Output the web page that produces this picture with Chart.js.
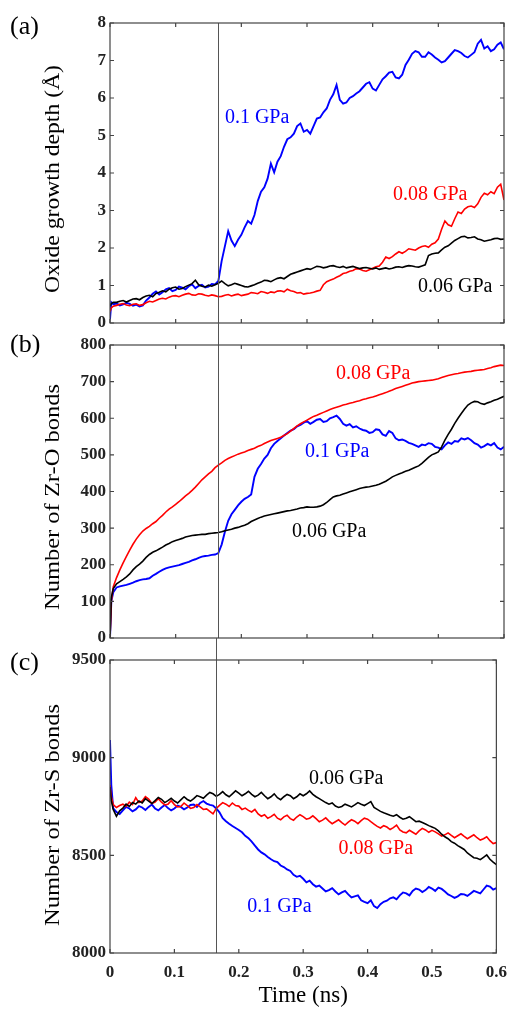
<!DOCTYPE html>
<html>
<head>
<meta charset="utf-8">
<title>Oxide growth and bond counts</title>
<script src="https://cdn.jsdelivr.net/npm/chart.js@4.4.1/dist/chart.umd.min.js"></script>
<style>
  html, body { margin: 0; padding: 0; background: #fff; }
  #wrap { position: relative; width: 516px; height: 1010px; }
  #wrap canvas { position: absolute; left: 0; top: 0; }
</style>
</head>
<body>
<div id="wrap">
  <canvas id="chartA" width="516" height="1010"></canvas>
  <canvas id="chartB" width="516" height="1010"></canvas>
  <canvas id="chartC" width="516" height="1010"></canvas>
</div>
<script>
// time axis (ns), shared by every series
const time = [0, 0.002,
  0.005, 0.010, 0.015, 0.020, 0.025, 0.030, 0.035, 0.040, 0.045, 0.050,
  0.055, 0.060, 0.065, 0.070, 0.075, 0.080, 0.085, 0.090, 0.095, 0.100,
  0.105, 0.110, 0.115, 0.120, 0.125, 0.130, 0.135, 0.140, 0.145, 0.150,
  0.155, 0.160, 0.165, 0.170, 0.175, 0.180, 0.185, 0.190, 0.195, 0.200,
  0.205, 0.210, 0.215, 0.220, 0.225, 0.230, 0.235, 0.240, 0.245, 0.250,
  0.255, 0.260, 0.265, 0.270, 0.275, 0.280, 0.285, 0.290, 0.295, 0.300,
  0.305, 0.310, 0.315, 0.320, 0.325, 0.330, 0.335, 0.340, 0.345, 0.350,
  0.355, 0.360, 0.365, 0.370, 0.375, 0.380, 0.385, 0.390, 0.395, 0.400,
  0.405, 0.410, 0.415, 0.420, 0.425, 0.430, 0.435, 0.440, 0.445, 0.450,
  0.455, 0.460, 0.465, 0.470, 0.475, 0.480, 0.485, 0.490, 0.495, 0.500,
  0.505, 0.510, 0.515, 0.520, 0.525, 0.530, 0.535, 0.540, 0.545, 0.550,
  0.555, 0.560, 0.565, 0.570, 0.575, 0.580, 0.585, 0.590, 0.595, 0.600];

const pressureLabels = ['0.06 GPa', '0.08 GPa', '0.1 GPa'];
const markerTime = 0.164;

// (a) oxide growth depth (Å)
const depth006 = [0.45, 0.52,
  0.55, 0.55, 0.58, 0.60, 0.56, 0.60, 0.64, 0.65, 0.62, 0.68,
  0.72, 0.74, 0.70, 0.79, 0.82, 0.86, 0.83, 0.90, 0.94, 0.96,
  0.90, 0.92, 0.97, 1.01, 1.05, 1.14, 1.02, 0.98, 0.96, 1.01,
  0.98, 1.02, 1.06, 1.12, 1.05, 0.99, 1.02, 1.06, 1.03, 1.00,
  0.97, 0.96, 0.99, 1.02, 1.06, 1.09, 1.14, 1.13, 1.10, 1.15,
  1.19, 1.21, 1.18, 1.24, 1.30, 1.33, 1.36, 1.39, 1.42, 1.45,
  1.43, 1.47, 1.51, 1.50, 1.47, 1.49, 1.52, 1.53, 1.50, 1.48,
  1.51, 1.47, 1.49, 1.51, 1.48, 1.45, 1.47, 1.48, 1.46, 1.44,
  1.47, 1.43, 1.45, 1.47, 1.44, 1.46, 1.49, 1.50, 1.48, 1.51,
  1.53, 1.52, 1.50, 1.49, 1.52, 1.55, 1.80, 1.84, 1.86, 1.87,
  1.95, 2.02, 2.06, 2.13, 2.20, 2.25, 2.30, 2.31, 2.27, 2.28,
  2.30, 2.24, 2.22, 2.18, 2.20, 2.22, 2.25, 2.26, 2.23, 2.24];
const depth008 = [0.30, 0.40,
  0.45, 0.47, 0.50, 0.52, 0.48, 0.46, 0.50, 0.51, 0.47, 0.49,
  0.54, 0.58, 0.56, 0.60, 0.64, 0.66, 0.64, 0.69, 0.72, 0.73,
  0.70, 0.74, 0.77, 0.79, 0.75, 0.74, 0.78, 0.77, 0.74, 0.72,
  0.75, 0.73, 0.70, 0.71, 0.74, 0.76, 0.72, 0.75, 0.77, 0.73,
  0.75, 0.77, 0.81, 0.80, 0.78, 0.84, 0.82, 0.79, 0.83, 0.81,
  0.85, 0.86, 0.83, 0.90, 0.86, 0.84, 0.80, 0.81, 0.77, 0.79,
  0.80, 0.82, 0.85, 0.87, 1.02, 1.10, 1.14, 1.17, 1.22, 1.26,
  1.32, 1.34, 1.38, 1.40, 1.45, 1.44, 1.40, 1.38, 1.42, 1.46,
  1.50, 1.52, 1.62, 1.76, 1.72, 1.77, 1.84, 1.90, 1.86, 1.91,
  1.98, 1.96, 1.94, 2.00, 2.04, 2.06, 2.02, 2.10, 2.14, 2.24,
  2.50, 2.72, 2.62, 2.58, 2.78, 2.96, 2.92, 3.04, 3.10, 3.12,
  3.08, 3.18, 3.35, 3.46, 3.42, 3.50, 3.45, 3.62, 3.70, 3.28];
const depth01 = [0.10, 0.55,
  0.50, 0.52, 0.47, 0.50, 0.54, 0.51, 0.46, 0.49, 0.44, 0.47,
  0.60, 0.68, 0.78, 0.84, 0.76, 0.82, 0.90, 0.93, 0.85, 0.88,
  0.97, 0.94, 0.90, 0.98, 1.03, 0.93, 0.99, 1.02, 0.95, 0.97,
  1.04, 1.03, 1.12, 1.65, 2.05, 2.45, 2.20, 2.05, 2.22, 2.35,
  2.55, 2.72, 2.65, 2.88, 3.25, 3.50, 3.62, 3.85, 4.25, 4.02,
  4.30, 4.45, 4.70, 4.90, 4.95, 5.05, 5.25, 5.32, 5.10, 5.15,
  5.05, 5.25, 5.45, 5.48, 5.62, 5.72, 5.95, 6.10, 6.35, 5.95,
  5.85, 5.88, 6.00, 6.05, 6.12, 6.18, 6.28, 6.38, 6.42, 6.25,
  6.20, 6.35, 6.50, 6.58, 6.68, 6.70, 6.55, 6.52, 6.62, 6.88,
  7.02, 7.18, 7.25, 7.22, 7.10, 7.10, 7.22, 7.16, 7.08, 7.02,
  6.95, 6.98, 7.08, 7.18, 7.28, 7.25, 7.20, 7.12, 7.08, 7.15,
  7.22, 7.45, 7.55, 7.32, 7.38, 7.25, 7.30, 7.42, 7.48, 7.30];

// (b) number of Zr-O bonds
const zrO006 = [0, 110,
  135, 148, 154, 160, 167, 175, 186, 195, 202, 210,
  220, 228, 234, 238, 243, 248, 254, 258, 263, 266,
  269, 272, 276, 278, 280, 281, 282, 283, 283, 285,
  286, 287, 288, 290, 293, 295, 297, 300, 302, 305,
  308, 312, 318, 322, 326, 330, 333, 335, 337, 339,
  341, 343, 345, 347, 348, 350, 352, 355, 356, 358,
  357, 357, 358, 360, 364, 370, 378, 385, 388, 390,
  393, 396, 399, 402, 405, 408, 410, 412, 413, 415,
  417, 420, 424, 428, 434, 440, 444, 448, 451, 455,
  458, 462, 466, 470, 477, 485, 493, 500, 504, 508,
  522, 540, 556, 570, 586, 600, 613, 625, 636, 642,
  646, 645, 640, 638, 642, 645, 649, 652, 656, 660];
const zrO008 = [0, 100,
  140, 165, 186, 205, 223, 240, 256, 270, 282, 292,
  299, 305, 312, 318, 327, 335, 344, 352, 358, 365,
  372, 380, 388, 395, 403, 412, 422, 432, 440, 448,
  455, 465, 472, 478, 485, 490, 494, 498, 502, 505,
  508, 512, 515, 518, 523, 526, 531, 535, 539, 542,
  545, 548, 553, 558, 565, 572, 579, 585, 590, 595,
  600, 605, 608, 612, 616, 620, 624, 627, 630, 633,
  636, 638, 641, 643, 646, 648, 651, 653, 656, 658,
  661, 664, 667, 670, 674, 677, 681, 684, 687, 690,
  693, 696, 698, 700, 701, 702, 703, 704, 706, 708,
  711, 714, 717, 719, 721, 722, 724, 726, 727, 728,
  730, 731, 732, 733, 736, 738, 741, 743, 745, 744];
const zrO01 = [0, 100,
  125, 138, 141, 143, 145, 148, 151, 155, 158, 160,
  161, 163, 170, 175, 181, 186, 190, 193, 195, 197,
  199, 202, 205, 208, 212, 215, 219, 222, 224, 225,
  227, 228, 232, 255, 290, 320, 338, 350, 362, 372,
  380, 385, 392, 440, 462, 475, 490, 500, 518, 530,
  538, 545, 553, 560, 566, 570, 578, 582, 588, 592,
  585, 590, 596, 598, 590, 592, 600, 603, 607, 598,
  585, 580, 584, 575, 578, 572, 568, 566, 560, 562,
  570, 568, 556, 552, 565, 560, 545, 540, 542, 538,
  533, 530, 526, 522, 528, 526, 532, 530, 522, 520,
  515, 526, 534, 530, 538, 536, 545, 542, 546, 540,
  532, 528, 520, 524, 530, 526, 532, 520, 515, 522];

// (c) number of Zr-S bonds
const zrS006 = [8850, 8780,
  8735, 8700, 8728, 8742, 8762, 8750, 8770, 8762, 8778, 8768,
  8790, 8778, 8765, 8780, 8796, 8787, 8770, 8780, 8792, 8778,
  8768, 8784, 8800, 8786, 8778, 8790, 8806, 8800, 8792, 8808,
  8822, 8815, 8802, 8812, 8826, 8810, 8800, 8815, 8830, 8818,
  8805, 8815, 8828, 8812, 8800, 8808, 8822, 8805, 8790, 8800,
  8815, 8795, 8785, 8800, 8812, 8805, 8790, 8800, 8815, 8805,
  8815, 8830, 8812, 8800, 8790, 8780, 8770, 8762, 8768, 8752,
  8745, 8750, 8762, 8755, 8748, 8758, 8770, 8762, 8755, 8765,
  8775, 8745, 8735, 8725, 8718, 8712, 8705, 8700, 8708, 8695,
  8685, 8690, 8698, 8685, 8672, 8675, 8668, 8660, 8652, 8645,
  8638, 8625, 8608, 8595, 8585, 8570, 8562, 8550, 8540, 8530,
  8512, 8500, 8488, 8485, 8478, 8490, 8502, 8480, 8465, 8452];
const zrS008 = [8860, 8800,
  8760, 8745, 8755, 8762, 8750, 8772, 8760, 8795, 8770, 8778,
  8800, 8788, 8765, 8772, 8790, 8772, 8758, 8762, 8780, 8760,
  8748, 8750, 8768, 8755, 8740, 8745, 8760, 8748, 8735, 8738,
  8725, 8712, 8740, 8756, 8770, 8762, 8750, 8768, 8755, 8752,
  8735, 8742, 8730, 8722, 8735, 8712, 8700, 8708, 8690, 8698,
  8710, 8690, 8682, 8697, 8705, 8688, 8680, 8696, 8708, 8698,
  8685, 8690, 8702, 8688, 8672, 8680, 8692, 8675, 8662, 8672,
  8682, 8668, 8655, 8670, 8682, 8675, 8662, 8678, 8690, 8685,
  8672, 8660, 8648, 8640, 8652, 8645, 8632, 8642, 8655, 8630,
  8620, 8615, 8628, 8618, 8608, 8625, 8638, 8630, 8618, 8628,
  8620, 8610, 8598, 8605, 8615, 8602, 8590, 8600, 8610, 8597,
  8585, 8595, 8605, 8590, 8578, 8585, 8595, 8575, 8560, 8565];
const zrS01 = [9090, 8860,
  8740, 8722, 8712, 8730, 8748, 8740, 8725, 8735, 8752, 8745,
  8732, 8748, 8760, 8740, 8730, 8745, 8758, 8742, 8730, 8740,
  8755, 8748, 8735, 8745, 8758, 8760, 8748, 8768, 8778, 8765,
  8758, 8755, 8740, 8720, 8690, 8675, 8662, 8650, 8640, 8630,
  8618, 8600, 8588, 8570, 8550, 8530, 8515, 8505, 8492, 8480,
  8470, 8465, 8448, 8440, 8428, 8420, 8400, 8390, 8395, 8380,
  8362, 8370, 8352, 8340, 8345, 8330, 8315, 8322, 8332, 8315,
  8300, 8310, 8318, 8300, 8285, 8290, 8295, 8270, 8262, 8255,
  8270, 8240, 8230, 8250, 8262, 8268, 8280, 8285, 8275, 8295,
  8310, 8305, 8295, 8318, 8330, 8325, 8312, 8322, 8338, 8330,
  8318, 8335, 8328, 8315, 8300, 8292, 8282, 8290, 8302, 8300,
  8292, 8305, 8318, 8312, 8305, 8325, 8345, 8340, 8325, 8332];

const colors = ['#000000', '#ff0000', '#0000ff'];
const serif = "'Liberation Serif', 'Times New Roman', serif";

// frame, inward tick marks, marker line, panel letter, y title and curve labels
const decorPlugin = {
    id: 'decor',
    afterDatasetsDraw(chart, args, opts) {
        const { ctx, chartArea: a, scales } = chart;
        const xs = scales.x, ys = scales.y;
        ctx.save();

        // vertical marker
        const mx = Math.round(xs.getPixelForValue(markerTime)) + 0.5;
        ctx.strokeStyle = '#555';
        ctx.lineWidth = 1;
        ctx.beginPath();
        ctx.moveTo(mx, a.top - opts.markerUp);
        ctx.lineTo(mx, a.bottom);
        ctx.stroke();

        // curve labels
        ctx.font = '20px ' + serif;
        ctx.textAlign = 'left';
        ctx.textBaseline = 'middle';
        opts.curveLabels.forEach(l => {
            ctx.fillStyle = colors[l.series];
            ctx.fillText(pressureLabels[l.series], xs.getPixelForValue(l.t), ys.getPixelForValue(l.v));
        });

        // frame
        ctx.strokeStyle = '#444';
        ctx.lineWidth = 1.2;
        ctx.strokeRect(a.left, a.top, a.width, a.height);
        const len = 4;
        ctx.beginPath();
        xs.ticks.forEach(t => {
            const px = xs.getPixelForValue(t.value);
            ctx.moveTo(px, a.bottom); ctx.lineTo(px, a.bottom - len);
            ctx.moveTo(px, a.top); ctx.lineTo(px, a.top + len);
        });
        ys.ticks.forEach(t => {
            const py = ys.getPixelForValue(t.value);
            ctx.moveTo(a.left, py); ctx.lineTo(a.left + len, py);
            ctx.moveTo(a.right, py); ctx.lineTo(a.right - len, py);
        });
        ctx.stroke();

        // panel letter
        ctx.fillStyle = '#000';
        ctx.font = '26px ' + serif;
        ctx.textAlign = 'left';
        ctx.textBaseline = 'middle';
        ctx.fillText(opts.letter, 10, opts.letterY);

        // y axis title, stretched along its length like the original figure
        ctx.font = '22px ' + serif;
        const w = ctx.measureText(opts.yTitle).width;
        ctx.translate(opts.yTitleX, opts.yTitleY);
        ctx.rotate(-Math.PI / 2);
        ctx.scale(opts.yTitleLength / w, 1);
        ctx.textAlign = 'center';
        ctx.fillText(opts.yTitle, 0, 0);
        ctx.restore();
    }
};

const tickFont = { family: serif, size: 17, weight: 'bold' };

function series(values, i) {
    return {
        label: pressureLabels[i],
        data: time.map((t, k) => ({ x: t, y: values[k] })),
        borderColor: colors[i],
        borderWidth: i === 2 ? 1.9 : 1.6,
        pointRadius: 0,
        tension: 0
    };
}

function makePanel(id, p) {
    return new Chart(document.getElementById(id), {
        type: 'line',
        data: { datasets: [series(p.values[0], 0), series(p.values[1], 1), series(p.values[2], 2)] },
        options: {
            responsive: false,
            animation: false,
            layout: { padding: { top: p.top, right: 12, bottom: p.bottom, left: 0 } },
            plugins: {
                legend: { display: false },
                tooltip: { enabled: false },
                decor: p.decor
            },
            scales: {
                x: {
                    type: 'linear', min: 0, max: 0.6,
                    grid: { display: false, drawTicks: false },
                    border: { display: false },
                    ticks: {
                        display: p.showX, stepSize: 0.1, padding: 9, maxRotation: 0,
                        font: tickFont, color: '#222',
                        callback: v => String(Number(v.toFixed(1)))
                    },
                    title: {
                        display: p.showX, text: 'Time (ns)', color: '#000',
                        font: { family: serif, size: 23 }, padding: { top: 4, bottom: 0 }
                    },
                    afterFit: s => { s.height = p.xHeight; }
                },
                y: {
                    min: p.yMin, max: p.yMax,
                    grid: { display: false, drawTicks: false },
                    border: { display: false },
                    ticks: {
                        stepSize: p.yStep, padding: 4, font: tickFont, color: '#222',
                        callback: v => String(v)
                    },
                    afterFit: s => { s.width = 110; }
                }
            }
        },
        plugins: [decorPlugin]
    });
}

makePanel('chartA', {
    values: [depth006, depth008, depth01],
    top: 23, bottom: 687, xHeight: 0, showX: false,
    yMin: 0, yMax: 8, yStep: 1,
    decor: {
        markerUp: 0, letter: '(a)', letterY: 27,
        yTitle: 'Oxide growth depth (Å)', yTitleX: 53, yTitleY: 179, yTitleLength: 228,
        curveLabels: [
            { series: 2, t: 0.175, v: 5.47 },
            { series: 1, t: 0.431, v: 3.41 },
            { series: 0, t: 0.469, v: 0.96 }
        ]
    }
});

makePanel('chartB', {
    values: [zrO006, zrO008, zrO01],
    top: 345, bottom: 372, xHeight: 0, showX: false,
    yMin: 0, yMax: 800, yStep: 100,
    decor: {
        markerUp: 22, letter: '(b)', letterY: 345,
        yTitle: 'Number of Zr-O bonds', yTitleX: 53, yTitleY: 497, yTitleLength: 226,
        curveLabels: [
            { series: 1, t: 0.344, v: 721 },
            { series: 2, t: 0.297, v: 508 },
            { series: 0, t: 0.277, v: 289 }
        ]
    }
});

makePanel('chartC', {
    values: [zrS006, zrS008, zrS01],
    top: 660, bottom: 0, xHeight: 57, showX: true,
    yMin: 8000, yMax: 9500, yStep: 500,
    decor: {
        markerUp: 22, letter: '(c)', letterY: 663,
        yTitle: 'Number of Zr-S bonds', yTitleX: 53, yTitleY: 815, yTitleLength: 222,
        curveLabels: [
            { series: 0, t: 0.309, v: 8891 },
            { series: 1, t: 0.355, v: 8532 },
            { series: 2, t: 0.213, v: 8235 }
        ]
    }
});
</script>
</body>
</html>
